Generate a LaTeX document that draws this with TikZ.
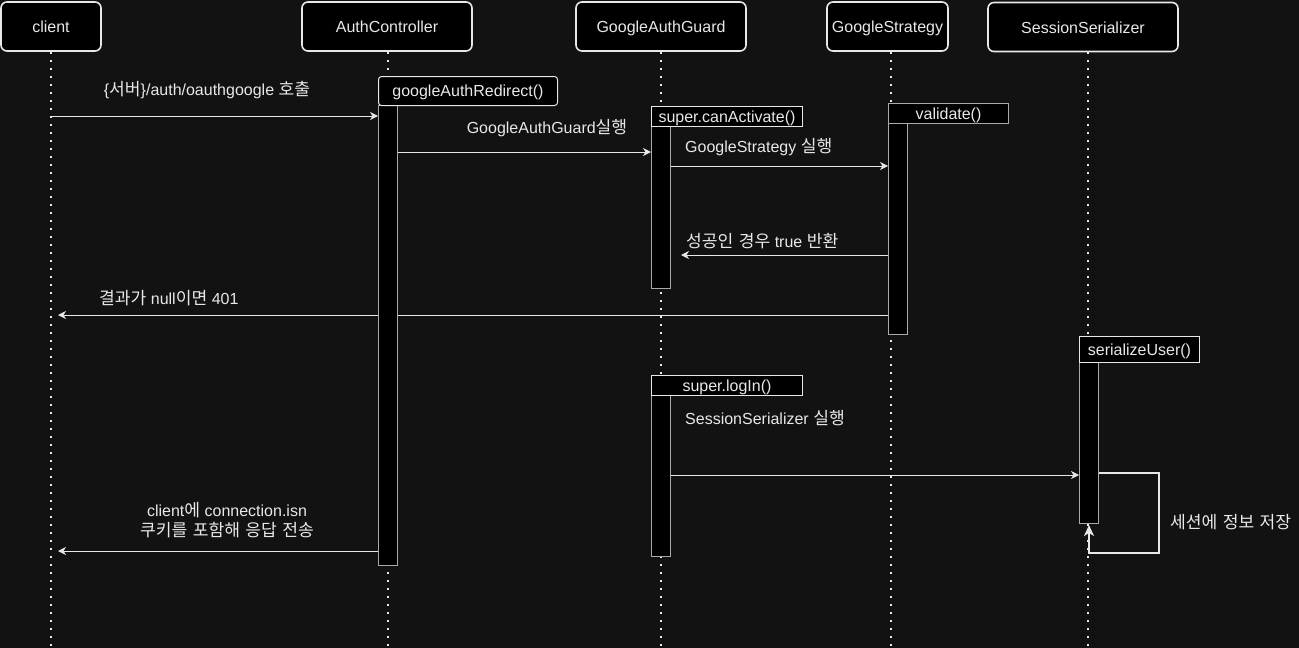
\documentclass[tikz,border=0pt]{standalone}
\usepackage{fontspec}
\setmainfont{Liberation Sans}
\newfontfamily\krfont[Scale=1.07, WordSpace=1.4]{Noto Sans CJK KR}
\newcommand{\kr}[1]{{\krfont #1}}
\usetikzlibrary{arrows.meta, positioning}
\pgfdeclarelayer{canvas}
\pgfdeclarelayer{background}
\pgfsetlayers{canvas,background,main}
\definecolor{bg}{RGB}{18,18,18}
\definecolor{fg}{RGB}{232,232,232}
\definecolor{edgegray}{RGB}{170,170,170}
\tikzset{
  header/.style={draw=fg, line width=1.6pt, fill=black, rounded corners=6pt,
    text=fg, minimum height=49pt, inner sep=0pt, text height=12pt, text depth=0pt,
    font=\fontsize{16}{19}\selectfont},
  lifeline/.style={draw=fg, line width=2pt, dash pattern=on 2pt off 6pt},
  callbox/.style={draw=fg, line width=1pt, fill=black, text=fg, minimum height=20pt,
    inner sep=0pt, text height=12pt, text depth=1pt, anchor=north west,
    font=\fontsize{16}{19}\selectfont},
  actbar/.style={draw=edgegray, line width=1pt, fill=black, minimum width=19pt,
    inner sep=0pt, anchor=north west},
  msg/.style={draw=fg, line width=1pt, -{Stealth[length=8pt,width=8pt,inset=2.5pt]}},
  msglabel/.style={text=fg, inner sep=0pt, font=\fontsize{16}{20}\selectfont},
}
\begin{document}
\begin{tikzpicture}[x=1pt, y=-1pt]
  \begin{pgfonlayer}{canvas}
    \fill[bg] (0,0) rectangle (1299,648);
  \end{pgfonlayer}
  \useasboundingbox (0,0) rectangle (1299,648);

  % participants
  \node[header, minimum width=100pt] (client) at (51,26.5) {client};
  \node[header, minimum width=170pt] (authCtrl) at (387,26.5) {AuthController};
  \node[header, minimum width=170pt] (authGuard) at (661,26.5) {GoogleAuthGuard};
  \node[header, minimum width=121pt] (strategy) at (887.5,26.5) {GoogleStrategy};
  \node[header, minimum width=190pt] (serializer) at (1083,27) {SessionSerializer};

  % activations
  \node[actbar, minimum height=460pt] (barCtrl) at (378,105) {};
  \node[actbar, minimum height=163pt] (barGuard) at (651,125) {};
  \node[actbar, minimum height=211pt] (barStrat) at (888,123) {};
  \node[actbar, minimum height=161pt] (barSer) at (1079,362) {};
  \node[actbar, minimum height=161pt] (barLogin) at (651,395) {};

  \node[callbox, minimum width=179pt, minimum height=29pt, rounded corners=3pt] (callCtrl) at (378,76) {googleAuthRedirect()};
  \node[callbox, minimum width=151pt] (callGuard) at (651,106) {super.canActivate()};
  \node[callbox, minimum width=120pt, draw=edgegray] (callStrat) at (888,103) {validate()};
  \node[callbox, minimum width=120pt, minimum height=26pt] (callSer) at (1079,336) {serializeUser()};
  \node[callbox, minimum width=151pt] (callLogin) at (651,375) {super.logIn()};

  \begin{pgfonlayer}{background}
    \foreach \hd/\dx in {client/0, authCtrl/0.5, authGuard/0, strategy/3.5, serializer/5}
      \draw[lifeline] ([xshift=\dx pt]\hd.south) -- ++(0,600);
    \draw[msg, shorten >=7pt] (barStrat.west |- 0,315) -- (client.south |- 0,315);
  \end{pgfonlayer}

  % messages
  \draw[msg] (client.south |- 0,116) -- (barCtrl.west |- 0,116);
  \draw[msg] (barCtrl.east |- 0,152) -- (barGuard.west |- 0,152);
  \draw[msg] (barGuard.east |- 0,166) -- (barStrat.west |- 0,166);
  \draw[msg, shorten >=10pt] (barStrat.west |- 0,255) -- (barGuard.east |- 0,255);
  \draw[msg] (barLogin.east |- 0,475) -- (barSer.west |- 0,475);
  \draw[msg, line width=1.6pt, -{Stealth[length=11pt,width=10pt,inset=3pt]}, shorten >=1pt]
    (barSer.east |- 0,473) -- ++(60,0) |- (barSer.south |- 0,553) -- (barSer.south);
  \draw[msg, shorten >=7pt] (barCtrl.west |- 0,551) -- (client.south |- 0,551);

  % labels
  \node[msglabel] (lblCall) at (207,90) {\{\kr{서버}\}/auth/oauthgoogle \kr{호출}};
  \node[msglabel] (lblGuard) at (547,128) {GoogleAuthGuard\kr{실행}};
  \node[msglabel, anchor=west] (lblStrat) at (685,147) {GoogleStrategy \kr{실행}};
  \node[msglabel, anchor=west] (lblTrue) at (686,241) {\kr{성공인 경우} true \kr{반환}};
  \node[msglabel, anchor=west] (lblNull) at (99,298) {\kr{결과가} null\kr{이면} 401};
  \node[msglabel, anchor=west] (lblSer) at (685,418) {SessionSerializer \kr{실행}};
  \node[msglabel, anchor=west] (lblSave) at (1170,522) {\kr{세션에 정보 저장}};
  \node[msglabel, align=center] (lblResp) at (227,520) {client\kr{에} connection.isn\\\kr{쿠키를 포함해 응답 전송}};
\end{tikzpicture}
\end{document}
